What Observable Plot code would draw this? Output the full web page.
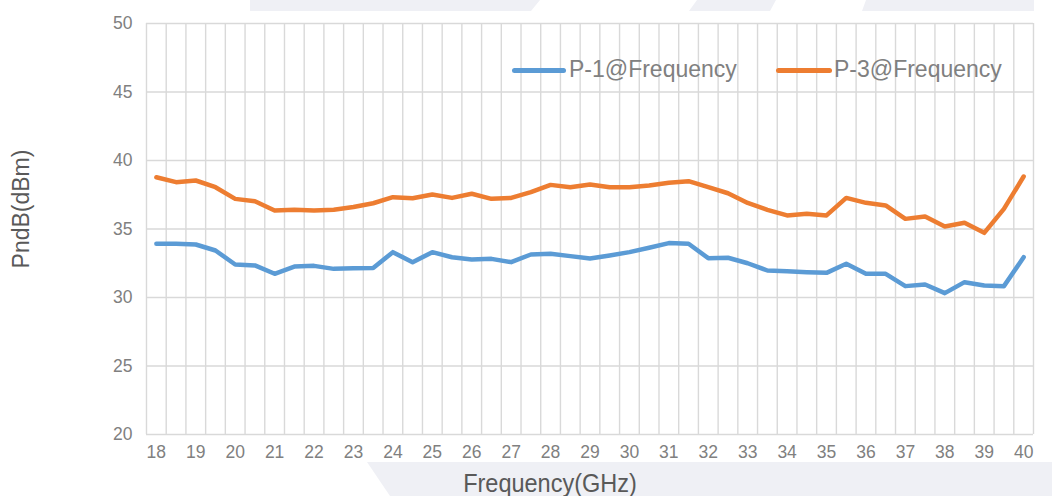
<!DOCTYPE html>
<html>
<head>
<meta charset="utf-8">
<script src="https://cdn.jsdelivr.net/npm/d3@7"></script>
<script src="https://cdn.jsdelivr.net/npm/@observablehq/plot@0.6"></script>
<style>
  html, body { margin: 0; padding: 0; background: #ffffff; }
  #wrap { position: relative; width: 1052px; height: 496px; overflow: hidden; font-family: "Liberation Sans", Arial, sans-serif; }
  .bg { position: absolute; background: #eff0f5; }
  #chart { position: absolute; left: 0; top: 0; }
  .leg-line { position: absolute; height: 5px; border-radius: 2.5px; }
  .leg-text { position: absolute; font-size: 23px; line-height: 23px; color: #808080; white-space: nowrap; }
  #xtitle { position: absolute; left: 550px; top: 471px; font-size: 25px; line-height: 25px; color: #595959; white-space: nowrap; transform: translateX(-50%) scaleX(0.94); }
  #ytitle { position: absolute; left: 21px; top: 209px; font-size: 23px; line-height: 23px; color: #595959; white-space: nowrap; transform: translate(-50%, -50%) rotate(-90deg); }
</style>
</head>
<body>
<div id="wrap">
  <div class="bg" style="left:0;top:0;width:1052px;height:11px;clip-path:polygon(250px 0,540px 0,531px 11px,250px 11px,250px 0, 697px 0,776px 0,770px 11px,689px 11px,697px 0, 866px 0,1034px 0,1034px 11px,862px 11px,866px 0);"></div>
  <div class="bg" style="left:0;top:462px;width:1052px;height:34px;clip-path:polygon(367px 0,1052px 0,1052px 34px,390px 34px);"></div>
  <div id="chart"></div>
  <div class="leg-line" style="left:512px;top:67.5px;width:54px;background:#5B9BD5;"></div>
  <div class="leg-text" style="left:569px;top:57.5px;">P-1@Frequency</div>
  <div class="leg-line" style="left:776px;top:67.5px;width:56px;background:#ED7D31;"></div>
  <div class="leg-text" style="left:834px;top:57.5px;">P-3@Frequency</div>
  <div id="xtitle">Frequency(GHz)</div>
  <div id="ytitle">PndB(dBm)</div>
</div>
<script>
const freq = [18,18.5,19,19.5,20,20.5,21,21.5,22,22.5,23,23.5,24,24.5,25,25.5,26,26.5,27,27.5,28,28.5,29,29.5,30,30.5,31,31.5,32,32.5,33,33.5,34,34.5,35,35.5,36,36.5,37,37.5,38,38.5,39,39.5,40];
const p1 = [33.92,33.92,33.87,33.43,32.41,32.34,31.73,32.26,32.31,32.09,32.14,32.16,33.31,32.58,33.31,32.94,32.77,32.82,32.58,33.14,33.19,33.02,32.85,33.07,33.31,33.63,33.97,33.92,32.87,32.9,32.5,31.97,31.92,31.85,31.8,32.46,31.73,31.73,30.83,30.95,30.32,31.12,30.88,30.83,32.94];
const p3 = [38.78,38.42,38.54,38.05,37.2,37.03,36.35,36.4,36.35,36.4,36.6,36.88,37.32,37.25,37.52,37.27,37.57,37.2,37.27,37.69,38.22,38.05,38.25,38.05,38.05,38.18,38.37,38.49,38.05,37.61,36.9,36.4,35.99,36.11,35.99,37.27,36.91,36.72,35.74,35.91,35.18,35.45,34.72,36.47,38.83];
const xTickLabels = [18,19,20,21,22,23,24,25,26,27,28,29,30,31,32,33,34,35,36,37,38,39,40];
const yTickLabels = [20,25,30,35,40,45,50];

const half = 0.25;
const xBounds = freq.map(f => f - half).concat([freq[freq.length - 1] + half]);
const d1 = freq.map((f, i) => ({f, v: p1[i]}));
const d3 = freq.map((f, i) => ({f, v: p3[i]}));

const chart = Plot.plot({
  width: 1052,
  height: 496,
  marginLeft: 146,
  marginRight: 19,
  marginTop: 23,
  marginBottom: 62,
  style: {background: "none", fontFamily: "Liberation Sans, Arial, sans-serif", fontSize: "17.5px", color: "#808080", overflow: "visible"},
  x: {domain: [freq[0] - half, freq[freq.length - 1] + half], axis: null},
  y: {domain: [20, 50], axis: null},
  marks: [
    Plot.ruleX(xBounds, {stroke: "#d9d9d9", strokeWidth: 1.4}),
    Plot.ruleY(yTickLabels, {stroke: "#d9d9d9", strokeWidth: 1.4}),
    Plot.axisX(xTickLabels, {tickSize: 0, tickPadding: 11, label: null}),
    Plot.axisY(yTickLabels, {tickSize: 0, tickPadding: 14, label: null}),
    Plot.line(d1, {x: "f", y: "v", stroke: "#5B9BD5", strokeWidth: 4.5, strokeLinejoin: "round", strokeLinecap: "round"}),
    Plot.line(d3, {x: "f", y: "v", stroke: "#ED7D31", strokeWidth: 4.5, strokeLinejoin: "round", strokeLinecap: "round"})
  ]
});
document.getElementById("chart").appendChild(chart);
</script>
</body>
</html>
